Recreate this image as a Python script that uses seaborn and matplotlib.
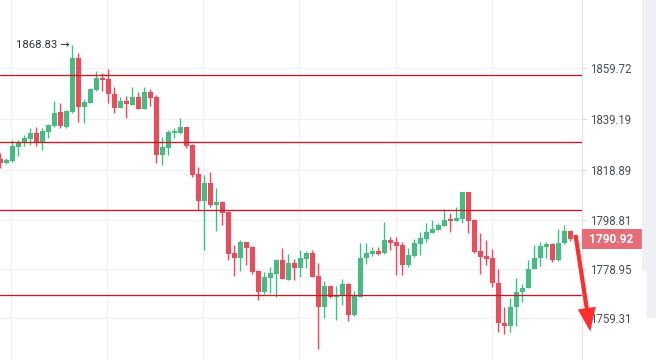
import matplotlib
matplotlib.use("Agg")
import matplotlib.pyplot as plt
import matplotlib.transforms as mtransforms
from matplotlib.patches import Rectangle, FancyArrowPatch
import seaborn as sns

sns.set_style("white")
plt.rcParams["font.family"] = ["Roboto", "DejaVu Sans"]

# candle data (one entry per bar, left to right)
opens = [1823.2, 1821.6, 1822.4, 1828.0, 1830.0, 1831.2, 1833.6, 1830.0, 1834.0, 1836.4,
         1842.0, 1836.0, 1842.0, 1863.7, 1844.1, 1845.7, 1850.9, 1855.7, 1855.3, 1849.3,
         1843.7, 1846.5, 1844.9, 1848.1, 1843.3, 1850.1, 1848.1, 1824.8, 1827.6, 1833.6,
         1833.6, 1836.0, 1828.8, 1817.2, 1806.3, 1813.5, 1804.7, 1805.9, 1801.9, 1785.4,
         1783.4, 1789.8, 1787.8, 1778.2, 1769.8, 1775.4, 1777.0, 1782.6, 1774.6, 1781.4,
         1779.4, 1783.0, 1785.4, 1776.2, 1763.7, 1772.2, 1767.8, 1768.6, 1773.0, 1760.5,
         1767.8, 1783.4, 1785.0, 1786.2, 1785.4, 1790.6, 1789.8, 1788.6, 1780.6, 1784.2,
         1789.0, 1791.0, 1793.5, 1794.7, 1796.3, 1799.1, 1798.3, 1799.1, 1809.9, 1798.7,
         1786.2, 1784.2, 1783.4, 1773.4, 1757.3, 1756.1, 1763.7, 1769.8, 1771.4, 1779.0,
         1783.4, 1787.8, 1789.0, 1782.6, 1789.4, 1794.3]
highs = [1825.6, 1823.6, 1830.8, 1830.8, 1832.8, 1835.6, 1836.0, 1835.6, 1837.2, 1846.5,
         1845.7, 1842.9, 1868.83, 1865.8, 1847.3, 1851.7, 1858.5, 1857.7, 1859.3, 1852.1,
         1848.1, 1848.5, 1852.1, 1850.1, 1852.1, 1851.3, 1848.9, 1832.0, 1834.8, 1835.6,
         1839.6, 1836.2, 1829.0, 1820.0, 1816.8, 1818.0, 1811.5, 1806.3, 1802.1, 1788.6,
         1790.6, 1790.0, 1788.2, 1778.4, 1777.8, 1779.8, 1783.0, 1787.4, 1785.0, 1783.0,
         1786.6, 1786.2, 1786.6, 1781.4, 1774.2, 1772.6, 1772.2, 1775.0, 1773.2, 1770.2,
         1789.4, 1789.4, 1787.8, 1787.8, 1797.9, 1791.9, 1791.9, 1789.8, 1787.4, 1791.0,
         1793.9, 1797.5, 1798.7, 1797.5, 1803.1, 1801.5, 1803.9, 1810.1, 1810.1, 1798.9,
         1793.5, 1790.6, 1787.0, 1779.0, 1763.7, 1767.4, 1775.4, 1773.0, 1782.6, 1788.6,
         1789.8, 1789.8, 1789.4, 1795.1, 1796.7, 1794.7]
lows = [1819.6, 1821.2, 1822.0, 1824.4, 1828.4, 1828.8, 1828.4, 1826.8, 1831.6, 1836.2,
        1835.6, 1835.6, 1841.6, 1838.0, 1837.6, 1845.5, 1850.5, 1850.5, 1845.7, 1841.6,
        1843.5, 1839.6, 1844.7, 1843.1, 1843.1, 1844.5, 1821.6, 1820.8, 1824.8, 1831.6,
        1833.2, 1827.6, 1816.0, 1802.7, 1786.6, 1803.9, 1794.3, 1796.7, 1782.6, 1776.2,
        1778.2, 1780.6, 1777.0, 1766.6, 1769.0, 1769.4, 1767.8, 1774.8, 1774.4, 1774.6,
        1775.8, 1779.4, 1775.6, 1746.9, 1759.3, 1767.4, 1758.5, 1764.5, 1758.1, 1760.1,
        1767.6, 1781.0, 1784.2, 1784.6, 1785.0, 1786.6, 1776.6, 1776.6, 1779.8, 1784.0,
        1784.6, 1789.8, 1793.3, 1794.5, 1796.1, 1793.9, 1798.1, 1797.5, 1793.5, 1785.4,
        1777.0, 1780.6, 1771.8, 1753.7, 1752.9, 1753.7, 1756.1, 1765.8, 1771.2, 1778.8,
        1780.2, 1783.4, 1781.8, 1782.4, 1789.2, 1790.2]
closes = [1821.6, 1822.8, 1828.4, 1830.0, 1831.6, 1833.6, 1830.0, 1834.4, 1836.8, 1841.6,
          1836.4, 1842.4, 1863.7, 1844.1, 1846.1, 1851.3, 1855.7, 1854.9, 1849.3, 1843.7,
          1846.5, 1845.3, 1848.1, 1843.3, 1850.1, 1847.7, 1824.8, 1828.0, 1834.0, 1834.4,
          1836.0, 1828.4, 1816.8, 1806.3, 1813.5, 1804.7, 1805.9, 1801.5, 1785.0, 1783.4,
          1789.8, 1787.4, 1777.8, 1769.8, 1775.8, 1777.4, 1782.6, 1775.0, 1781.4, 1779.4,
          1783.4, 1785.4, 1775.8, 1763.7, 1772.2, 1767.8, 1768.2, 1773.0, 1760.5, 1768.2,
          1783.4, 1785.4, 1786.2, 1785.0, 1790.6, 1789.4, 1788.2, 1780.6, 1784.6, 1789.4,
          1791.5, 1793.9, 1795.1, 1796.7, 1798.7, 1798.3, 1799.5, 1809.9, 1798.3, 1785.8,
          1783.8, 1783.0, 1773.4, 1757.3, 1756.1, 1763.7, 1769.8, 1771.4, 1779.0, 1783.4,
          1788.2, 1789.0, 1782.6, 1789.4, 1794.3, 1790.92]

level_lines = [1856.9, 1829.9, 1802.7, 1768.4]
price_ticks = [1859.72, 1839.19, 1818.89, 1798.81, 1778.95, 1759.31]
price_labels = ["1859.72", "1839.19", "1818.89", "1798.81", "1778.95", "1759.31"]
last_price = 1790.92
peak_label = "1868.83"

UP = "#4fb783"
DOWN = "#e34f5d"

fig = plt.figure(figsize=(6.56, 3.6), dpi=100)
ax = fig.add_axes([0, 0, 581.5 / 656, 1])

# grid
ax.set_xticks([1.8, 17.8, 33.8, 49.8, 65.9, 81.9])
ax.set_yticks(price_ticks)
ax.set_yticklabels(price_labels)
ax.grid(True, color="#f0f2f6", linewidth=0.9)
ax.set_axisbelow(True)

xs = list(range(len(opens)))
colors = [UP if c >= o else DOWN for o, c in zip(opens, closes)]
ax.vlines(xs, lows, highs, colors=colors, linewidth=0.95, zorder=2)
bottoms = [min(o, c) for o, c in zip(opens, closes)]
heights = [max(abs(c - o), 0.35) for o, c in zip(opens, closes)]
ax.bar(xs, heights, bottom=bottoms, width=0.78, color=colors, linewidth=0, zorder=3)

for lv in level_lines:
    ax.axhline(lv, color="#cc1821", linewidth=0.95, zorder=4)

ax.set_xlim(-0.05, 96.87)
ax.set_ylim(1742.45, 1887.03)

# axis on the right
ax.yaxis.tick_right()
ax.set_xticklabels([])
ax.tick_params(axis="x", length=0)
ax.tick_params(axis="y", direction="out", length=3, width=0.8, color="#d3d6dc",
               labelsize=8.3, labelcolor="#4a4d55", pad=3.5)
for side in ["top", "left", "bottom"]:
    ax.spines[side].set_visible(False)
ax.spines["right"].set_color("#e3e5ea")
ax.spines["right"].set_linewidth(0.9)

# peak annotation
ax.text(11.55, 1868.83, peak_label + " \u2192", ha="right", va="center",
        fontsize=8.2, color="#33363d")

# last price tag
trans = mtransforms.blended_transform_factory(ax.transAxes, ax.transData)
ax.add_patch(Rectangle((1.0, last_price - 4.0), 60 / 581.5, 8.0, transform=trans,
                       color="#e66c76", clip_on=False, zorder=5, linewidth=0))
ax.text(1.0 + 30 / 581.5, last_price, f"{last_price:.2f}", transform=trans,
        ha="center", va="center", fontsize=8.6, fontweight="bold", color="white",
        zorder=6, clip_on=False)

# big red arrow
arrow = FancyArrowPatch((95.8, 1793.8), (98.4, 1752.8),
                        arrowstyle="simple,head_length=1.7,head_width=1.3,tail_width=0.3",
                        mutation_scale=10, color="#ff2d2d", linewidth=0,
                        clip_on=False, zorder=7)
ax.add_patch(arrow)

# grey side panel of the screenshot
fig.patches.append(Rectangle((642 / 656, 90 / 360), 14 / 656, 270 / 360,
                             transform=fig.transFigure, color="#eff0f3", zorder=0))
fig.patches.append(Rectangle((647 / 656, 43 / 360), 9 / 656, 47 / 360,
                             transform=fig.transFigure, color="#eff0f3", zorder=0))

fig.savefig("out.png", dpi=100)
